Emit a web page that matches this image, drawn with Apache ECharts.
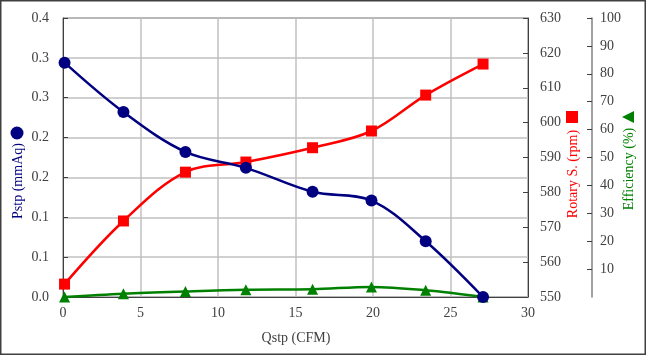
<!DOCTYPE html>
<html><head><meta charset="utf-8">
<script src="https://cdn.jsdelivr.net/npm/echarts@6/dist/echarts.min.js"></script>
<style>html,body{margin:0;padding:0;background:#fff}#c{width:647px;height:356px}</style>
</head><body><div id="c"></div>
<script>
var qstp = [0.1, 3.9, 7.9, 11.8, 16.1, 19.9, 23.4, 27.1];
var pstp = [0.294, 0.232, 0.182, 0.162, 0.132, 0.121, 0.070, 0.0];
var rotary = [553.7, 571.8, 585.8, 588.7, 592.8, 597.6, 607.9, 616.8];
var efficiency = [0, 1.2, 2.0, 2.6, 2.8, 3.6, 2.4, 0];
var xTitle = 'Qstp (CFM)';
var yTitles = ['Pstp (mmAq)', 'Rotary S. (rpm)', 'Efficiency (%)'];

function pairs(xs, ys){ return xs.map(function(x,i){return [x, ys[i]];}); }
var FONT = 'Liberation Serif';
var lab = {fontFamily: FONT, fontSize: 14, color: '#404040'};
var chart = echarts.init(document.getElementById('c'), null, {renderer:'canvas'});
chart.setOption({
  animation:false,
  grid:{left:63, right:119, top:18, bottom:59, show:true, borderColor:'#404040', borderWidth:1},
  xAxis:{type:'value', min:0, max:30, interval:5,
    axisLine:{show:true, lineStyle:{color:'#404040'}}, axisTick:{show:false},
    axisLabel:Object.assign({margin:9}, lab),
    splitLine:{show:true, lineStyle:{color:'#C0C0C0', width:1.5}}},
  yAxis:[
    {type:'value', min:0, max:0.35, interval:0.05, position:'left',
      axisLine:{show:true, lineStyle:{color:'#404040'}},
      axisTick:{show:true, inside:true, length:5, lineStyle:{color:'#404040'}},
      axisLabel:Object.assign({margin:14, formatter:function(v){return (Math.round(v*10+1e-6)/10).toFixed(1);}}, lab),
      splitLine:{show:true, lineStyle:{color:'#C0C0C0', width:1.5}}},
    {type:'value', min:550, max:630, interval:10, position:'right',
      axisLine:{show:true, lineStyle:{color:'#404040'}},
      axisTick:{show:true, inside:true, length:5, lineStyle:{color:'#404040'}},
      axisLabel:Object.assign({margin:12}, lab),
      splitLine:{show:false}},
    {type:'value', min:0, max:100, interval:10, position:'right', offset:64,
      axisLine:{show:true, lineStyle:{color:'#808080', width:1.5}},
      axisTick:{show:true, inside:true, length:5, lineStyle:{color:'#404040'}},
      axisLabel:Object.assign({margin:8, showMinLabel:false}, lab),
      splitLine:{show:false}}
  ],
  series:[
    {type:'line', yAxisIndex:0, data:pairs(qstp,pstp), smooth:0.35, symbol:'circle', symbolSize:12,
      lineStyle:{color:'#000080', width:2.5}, itemStyle:{color:'#000080'}, z:4},
    {type:'line', yAxisIndex:1, data:pairs(qstp,rotary), smooth:0.35, symbol:'rect', symbolSize:11,
      lineStyle:{color:'#FF0000', width:2.5}, itemStyle:{color:'#FF0000'}, z:3},
    {type:'line', yAxisIndex:2, data:pairs(qstp,efficiency), smooth:0.35, symbol:'triangle', symbolSize:11,
      lineStyle:{color:'#008000', width:2.5}, itemStyle:{color:'#008000'}, z:2}
  ],
  graphic:[
    {type:'rect', shape:{x:0.75, y:0.75, width:644.5, height:353.5}, style:{fill:null, stroke:'#404040', lineWidth:1.5}, silent:true},
    {type:'text', x:296, y:338, style:{text:xTitle, font:'14px "Liberation Serif"', fill:'#404040', align:'center', verticalAlign:'middle'}},
    {type:'text', x:18, y:181, rotation:Math.PI/2, style:{text:yTitles[0], font:'14px "Liberation Serif"', fill:'#000080', align:'center', verticalAlign:'middle'}},
    {type:'circle', shape:{cx:17, cy:133, r:6.5}, style:{fill:'#000080'}},
    {type:'text', x:573, y:174, rotation:Math.PI/2, style:{text:yTitles[1], font:'14px "Liberation Serif"', fill:'#FF0000', align:'center', verticalAlign:'middle'}},
    {type:'rect', shape:{x:566, y:111, width:12, height:12}, style:{fill:'#FF0000'}},
    {type:'text', x:629, y:169, rotation:Math.PI/2, style:{text:yTitles[2], font:'14px "Liberation Serif"', fill:'#008000', align:'center', verticalAlign:'middle'}},
    {type:'polygon', shape:{points:[[622,117],[634,111],[634,123]]}, style:{fill:'#008000'}}
  ]
});
</script></body></html>
